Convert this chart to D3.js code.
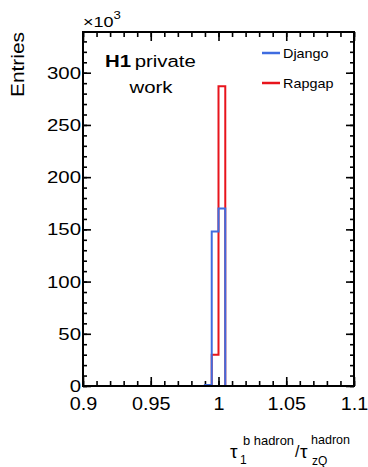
<!DOCTYPE html>
<html>
<head>
<meta charset="utf-8">
<script src="https://cdn.jsdelivr.net/npm/d3@7"></script>
<style>
  body { margin: 0; background: #fff; }
  text { font-family: "Liberation Sans", Arial, sans-serif; fill: #000; }
</style>
</head>
<body>
<div id="chart"></div>
<script>
// histogram, 40 bins from 0.9 to 1.1 (entries in thousands)
var binLo = 0.9, binHi = 1.1, nBins = 40;
var djangoBins = { 18: 1, 19: 148, 20: 170 };
var rapgapBins = { 18: 1, 19: 30, 20: 287 };
var xTicks = [0.9, 0.95, 1, 1.05, 1.1];
var yTicks = [0, 50, 100, 150, 200, 250, 300];
var legendNames = ["Django", "Rapgap"];

var svgWidth = 368, svgHeight = 467;
var frame = { left: 83, right: 354, top: 32, bottom: 386 };
var stretch = 1.2; // the text in the original looks wider than Arial

var svg = d3.select("#chart").append("svg")
    .attr("width", svgWidth)
    .attr("height", svgHeight);

var x = d3.scaleLinear().domain([binLo, binHi]).range([frame.left, frame.right]);
var y = d3.scaleLinear().domain([0, 339]).range([frame.bottom, frame.top]);

function fullBins(obj) {
    var out = [];
    for (var i = 0; i < nBins; i++) out.push(obj[i] || 0);
    return out;
}

function stepPath(vals) {
    var w = (binHi - binLo) / nBins;
    var p = "M" + x(binLo) + "," + y(0);
    vals.forEach(function (v, i) {
        p += "L" + x(binLo + i * w) + "," + y(v) + "L" + x(binLo + (i + 1) * w) + "," + y(v);
    });
    p += "L" + x(binHi) + "," + y(0);
    return p;
}

// put a text at (tx,ty), widened by the stretch factor
function label(tx, ty, str, size, anchor) {
    return svg.append("text")
        .attr("transform", `translate(${tx},${ty}) scale(${stretch},1)`)
        .attr("text-anchor", anchor || "start")
        .style("font-size", size + "px")
        .text(str);
}

// minor ticks
var xMinor = d3.range(0, 21).map(function (i) { return binLo + i * 0.01; });
var yMinor = d3.range(0, 34).map(function (i) { return i * 10; });

function noLabels(a) { return a.tickFormat(""); }

svg.append("g").attr("transform", `translate(0,${frame.bottom})`)
    .call(noLabels(d3.axisBottom(x).tickValues(xMinor).tickSizeInner(-5).tickSizeOuter(0)));
svg.append("g").attr("transform", `translate(0,${frame.top})`)
    .call(noLabels(d3.axisTop(x).tickValues(xMinor).tickSizeInner(-5).tickSizeOuter(0)));
svg.append("g").attr("transform", `translate(${frame.left},0)`)
    .call(noLabels(d3.axisLeft(y).tickValues(yMinor).tickSizeInner(-4).tickSizeOuter(0)));
svg.append("g").attr("transform", `translate(${frame.right},0)`)
    .call(noLabels(d3.axisRight(y).tickValues(yMinor).tickSizeInner(-4).tickSizeOuter(0)));

// major ticks + labels
svg.append("g").attr("class", "xaxis")
    .attr("transform", `translate(0,${frame.bottom})`)
    .call(d3.axisBottom(x).tickValues(xTicks).tickSizeInner(-9).tickSizeOuter(0)
        .tickPadding(11).tickFormat(function (d) { return +d.toFixed(2); }));
svg.append("g").attr("transform", `translate(0,${frame.top})`)
    .call(noLabels(d3.axisTop(x).tickValues(xTicks).tickSizeInner(-9).tickSizeOuter(0)));
svg.append("g").attr("class", "yaxis")
    .attr("transform", `translate(${frame.left},0)`)
    .call(d3.axisLeft(y).tickValues(yTicks).tickSizeInner(-8).tickSizeOuter(0).tickPadding(2));
svg.append("g").attr("transform", `translate(${frame.right},0)`)
    .call(noLabels(d3.axisRight(y).tickValues(yTicks).tickSizeInner(-8).tickSizeOuter(0)));

svg.selectAll(".tick line").attr("stroke", "#000").attr("stroke-width", 1.6);
svg.selectAll(".domain").remove();
svg.selectAll(".xaxis text, .yaxis text")
    .style("font-family", "Liberation Sans, Arial, sans-serif");
svg.selectAll(".xaxis text").style("font-size", "18px").attr("transform", "scale(1.1,1)");
svg.selectAll(".yaxis text").style("font-size", "17px")
    .attr("transform", `scale(${stretch},1)`).attr("x", -2 / stretch);

// histograms
svg.append("path").attr("d", stepPath(fullBins(rapgapBins)))
    .attr("fill", "none").attr("stroke", "#e8141c").attr("stroke-width", 2);
svg.append("path").attr("d", stepPath(fullBins(djangoBins)))
    .attr("fill", "none").attr("stroke", "#3f6ce0").attr("stroke-width", 2);

// frame
svg.append("rect")
    .attr("x", frame.left).attr("y", frame.top)
    .attr("width", frame.right - frame.left).attr("height", frame.bottom - frame.top)
    .attr("fill", "none").attr("stroke", "#000").attr("stroke-width", 2);

// exponent label
var expo = label(83, 27, "", 15);
expo.append("tspan").text("×10");
expo.append("tspan").attr("dy", -8).style("font-size", "11px").text("3");

// y title
svg.append("text")
    .attr("transform", `translate(24,${frame.top}) rotate(-90)`)
    .attr("text-anchor", "end")
    .attr("textLength", 65).attr("lengthAdjust", "spacingAndGlyphs")
    .style("font-size", "19px")
    .text("Entries");

// H1 private work
var h1 = label(105, 67, "", 17);
h1.append("tspan").style("font-weight", "bold").text("H1");
h1.append("tspan").attr("dx", 3).text("private");
label(151, 93, "work", 17, "middle");

// legend
var legColors = ["#3f6ce0", "#e8141c"];
legendNames.forEach(function (name, i) {
    var ly = 53 + i * 30;
    svg.append("line").attr("x1", 262).attr("x2", 280).attr("y1", ly).attr("y2", ly)
        .attr("stroke", legColors[i]).attr("stroke-width", 2.5);
    label(283, ly + 5, name, 12);
});

// x title: tau_1^{b hadron} / tau_zQ^{hadron}
function part(tx, ty, str, size, len) {
    var t = svg.append("text").attr("x", tx).attr("y", ty)
        .style("font-size", size + "px").text(str);
    if (len) t.attr("textLength", len).attr("lengthAdjust", "spacingAndGlyphs");
    return t;
}
part(230, 458, "τ", 19);
part(243, 445, "b hadron", 13, 51);
part(240, 464, "1", 12);
part(295, 457, "/", 16);
part(300, 458, "τ", 19);
part(311, 444, "hadron", 13, 39);
part(312, 465, "zQ", 12);
</script>
</body>
</html>
